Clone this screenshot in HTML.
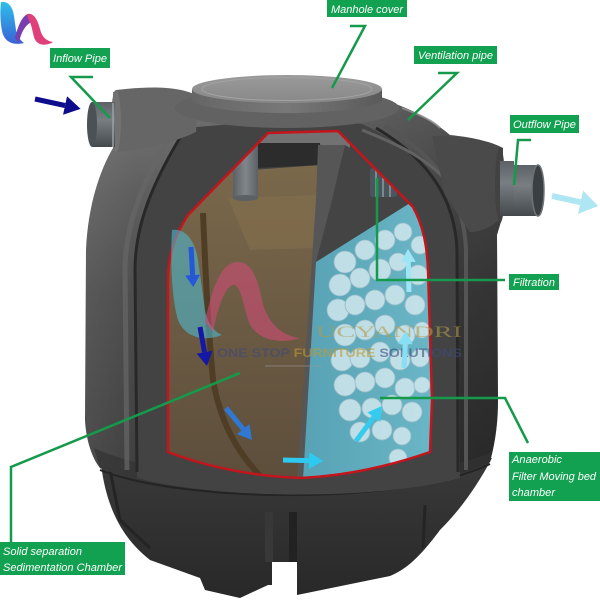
<!DOCTYPE html>
<html><head><meta charset="utf-8"><style>
html,body{margin:0;padding:0;background:#fff;}
svg{display:block;}
.lbl{font-family:"Liberation Sans",Arial,sans-serif;font-style:italic;font-size:11px;fill:#fff;}
</style></head><body>
<svg width="600" height="600" viewBox="0 0 600 600" xmlns="http://www.w3.org/2000/svg">
<defs>
  <linearGradient id="bodyV" x1="0" y1="90" x2="0" y2="500" gradientUnits="userSpaceOnUse">
    <stop offset="0" stop-color="#727272"/>
    <stop offset="0.25" stop-color="#585858"/>
    <stop offset="0.5" stop-color="#464646"/>
    <stop offset="1" stop-color="#353535"/>
  </linearGradient>
  <linearGradient id="bodyH" x1="85" y1="0" x2="500" y2="0" gradientUnits="userSpaceOnUse">
    <stop offset="0" stop-color="#fff" stop-opacity="0.10"/>
    <stop offset="0.12" stop-color="#fff" stop-opacity="0.04"/>
    <stop offset="0.5" stop-color="#000" stop-opacity="0.06"/>
    <stop offset="1" stop-color="#000" stop-opacity="0.28"/>
  </linearGradient>
  <linearGradient id="baseG" x1="0" y1="470" x2="0" y2="600" gradientUnits="userSpaceOnUse">
    <stop offset="0" stop-color="#383838"/>
    <stop offset="1" stop-color="#282828"/>
  </linearGradient>
  <linearGradient id="lidTop" x1="0" y1="75" x2="0" y2="103" gradientUnits="userSpaceOnUse">
    <stop offset="0" stop-color="#9a9a9a"/>
    <stop offset="1" stop-color="#888"/>
  </linearGradient>
  <linearGradient id="lidSide" x1="192" y1="0" x2="382" y2="0" gradientUnits="userSpaceOnUse">
    <stop offset="0" stop-color="#666"/>
    <stop offset="0.5" stop-color="#787878"/>
    <stop offset="1" stop-color="#5a5a5a"/>
  </linearGradient>
  <linearGradient id="pipeG" x1="0" y1="0" x2="0" y2="1">
    <stop offset="0" stop-color="#5c6266"/>
    <stop offset="0.4" stop-color="#787e82"/>
    <stop offset="1" stop-color="#44494c"/>
  </linearGradient>
  <linearGradient id="vpipe" x1="0" y1="0" x2="1" y2="0">
    <stop offset="0" stop-color="#5a6064"/>
    <stop offset="0.5" stop-color="#80868a"/>
    <stop offset="1" stop-color="#5a6064"/>
  </linearGradient>
  <linearGradient id="brownG" x1="0" y1="165" x2="0" y2="480" gradientUnits="userSpaceOnUse">
    <stop offset="0" stop-color="#7a684b"/>
    <stop offset="1" stop-color="#5d4e3c"/>
  </linearGradient>
  <linearGradient id="blueG" x1="310" y1="0" x2="432" y2="0" gradientUnits="userSpaceOnUse">
    <stop offset="0" stop-color="#58a4b6"/>
    <stop offset="1" stop-color="#6ab6c6"/>
  </linearGradient>
  <linearGradient id="logoBlue" x1="0" y1="0" x2="0" y2="1">
    <stop offset="0" stop-color="#2ec0ea"/>
    <stop offset="1" stop-color="#3a62d6"/>
  </linearGradient>
  <clipPath id="cut">
    <path d="M168,452 L168,280 C168,255 175,235 188,215 L268,133 L338,131 L413,207 C423,225 427,245 428,270 L432,400 L430,452 C390,466 345,476 300,478 C250,476 205,466 168,452 Z"/>
  </clipPath>
  <clipPath id="blueClip">
    <path d="M316,262 L410,203 L440,203 L440,480 L303,480 Z"/>
  </clipPath>
  <marker id="mNavy" viewBox="0 0 10 10" refX="0" refY="5" markerWidth="16" markerHeight="19" markerUnits="userSpaceOnUse" orient="auto" preserveAspectRatio="none"><path d="M0,0 L10,5 L0,10 Z" fill="#0c0c8c"/></marker>
  <marker id="mOut" viewBox="0 0 10 10" refX="0" refY="5" markerWidth="18" markerHeight="24" markerUnits="userSpaceOnUse" orient="auto" preserveAspectRatio="none"><path d="M0,0 L10,5 L0,10 Z" fill="#aee6f4"/></marker>
  <marker id="m3" viewBox="0 0 10 10" refX="0" refY="5" markerWidth="12" markerHeight="15" markerUnits="userSpaceOnUse" orient="auto" preserveAspectRatio="none"><path d="M0,0 L10,5 L0,10 Z" fill="#2557d6"/></marker>
  <marker id="m4" viewBox="0 0 10 10" refX="0" refY="5" markerWidth="14" markerHeight="16" markerUnits="userSpaceOnUse" orient="auto" preserveAspectRatio="none"><path d="M0,0 L10,5 L0,10 Z" fill="#1418a6"/></marker>
  <marker id="m5" viewBox="0 0 10 10" refX="0" refY="5" markerWidth="14" markerHeight="16" markerUnits="userSpaceOnUse" orient="auto" preserveAspectRatio="none"><path d="M0,0 L10,5 L0,10 Z" fill="#2f78d4"/></marker>
  <marker id="m6" viewBox="0 0 10 10" refX="0" refY="5" markerWidth="14" markerHeight="17" markerUnits="userSpaceOnUse" orient="auto" preserveAspectRatio="none"><path d="M0,0 L10,5 L0,10 Z" fill="#2ec9f0"/></marker>
  <marker id="m7" viewBox="0 0 10 10" refX="0" refY="5" markerWidth="14" markerHeight="16" markerUnits="userSpaceOnUse" orient="auto" preserveAspectRatio="none"><path d="M0,0 L10,5 L0,10 Z" fill="#34cbef"/></marker>
  <marker id="m8" viewBox="0 0 10 10" refX="0" refY="5" markerWidth="13" markerHeight="15" markerUnits="userSpaceOnUse" orient="auto" preserveAspectRatio="none"><path d="M0,0 L10,5 L0,10 Z" fill="#86dff3"/></marker>
  <marker id="m9" viewBox="0 0 10 10" refX="0" refY="5" markerWidth="13" markerHeight="15" markerUnits="userSpaceOnUse" orient="auto" preserveAspectRatio="none"><path d="M0,0 L10,5 L0,10 Z" fill="#9ee6f6"/></marker>
</defs>

<rect width="600" height="600" fill="#fff"/>

<!-- Top-left logo -->
<path d="M1,2 C9,1 13,8 14,16 L16,30 C17,36 20,40 24,43 C12,46 4,41 2,31 C0,20 0,10 1,2 Z" fill="url(#logoBlue)"/>
<path d="M15,38 C18,26 22,16 28,14 L32,22 C26,24 21,32 19,43 Z" fill="#7a3fae"/>
<path d="M27,14 C34,12 38,21 40,29 C42,37 46,41 53,42 C45,47 36,45 34,37 C32,29 31,23 29,21 Z" fill="#e0407a"/>

<!-- Base (lower section) -->
<path d="M100,455 C104,500 118,535 150,560 L200,578 L205,590 L240,598 L268,585 L272,585 L272,562 L297,562 L297,595 L390,576 C410,568 425,550 440,530 C458,512 475,490 492,458 Z" fill="url(#baseG)"/>
<rect x="265" y="512" width="8" height="50" fill="#383838"/>
<rect x="289" y="512" width="8" height="50" fill="#222"/>
<path d="M110,470 L120,520 L150,548" fill="none" stroke="#242424" stroke-width="3"/>
<path d="M425,505 L423,548" fill="none" stroke="#242424" stroke-width="3"/>

<!-- Upper body -->
<path d="M113,148 C100,170 88,205 86,250 L85,420 C86,440 92,458 100,468 C180,500 400,505 490,462 C496,440 498,420 498,400 L497,235 L503,215 L503,148 C490,141 470,137 450,135 C430,118 405,106 383,100 L192,100 C170,96 145,92 120,90 L113,92 Z" fill="url(#bodyV)"/>
<path d="M113,148 C100,170 88,205 86,250 L85,420 C86,440 92,458 100,468 C180,500 400,505 490,462 C496,440 498,420 498,400 L497,235 L503,215 L503,148 C490,141 470,137 450,135 C430,118 405,106 383,100 L192,100 C170,96 145,92 120,90 L113,92 Z" fill="url(#bodyH)"/>
<!-- ring band -->
<path d="M100,468 C180,500 400,505 490,462 L492,452 C400,490 180,488 94,448 Z" fill="#333" opacity="0.7"/>
<path d="M100,470 C180,502 400,507 490,464" fill="none" stroke="#242424" stroke-width="2"/>

<!-- frame around cutaway -->
<path d="M137,478 L135,270 C135,225 152,180 186,128 L300,118 L362,124 C420,150 455,195 458,250 L460,478 C380,500 220,500 137,478 Z" fill="#434343"/>
<path d="M137,472 L135,270 C135,226 152,182 186,128" fill="none" stroke="#282828" stroke-width="3"/>
<path d="M127,470 L125,270 C125,224 143,178 178,124" fill="none" stroke="#666" stroke-width="5" opacity="0.7"/>
<path d="M458,472 L457,250 C455,200 430,160 376,128" fill="none" stroke="#282828" stroke-width="3"/>
<path d="M466,470 L466,250 C464,198 440,158 385,126" fill="none" stroke="#555" stroke-width="4"/>
<path d="M362,130 C400,145 430,160 450,185" fill="none" stroke="#626262" stroke-width="3"/>
<path d="M113,142 C130,128 150,118 172,110" fill="none" stroke="#a0a0a0" stroke-width="2" opacity="0.8"/>
<path d="M402,108 C420,115 432,120 440,128" fill="none" stroke="#909090" stroke-width="2" opacity="0.8"/>

<!-- Inflow housing & pipe -->
<path d="M116,90 C150,86 180,86 198,96 L196,132 C175,142 145,150 116,152 Z" fill="#666"/>
<ellipse cx="116" cy="121" rx="5" ry="31" fill="#727272"/>
<rect x="92" y="102" width="23" height="45" fill="url(#pipeG)"/>
<ellipse cx="92" cy="124.5" rx="5" ry="22.5" fill="#4c5155"/>
<line x1="113" y1="103" x2="113" y2="147" stroke="#9aa0a4" stroke-width="1.5"/>

<!-- Outflow housing & pipe -->
<path d="M432,136 C462,136 486,140 500,147 L503,215 C495,226 482,232 470,232 L445,195 Z" fill="#4a4a4a"/>
<ellipse cx="500" cy="185" rx="5" ry="38" fill="#424242"/>
<rect x="500" y="161" width="14" height="55" fill="url(#pipeG)"/>
<rect x="514" y="165" width="24" height="51" fill="url(#pipeG)"/>
<ellipse cx="538" cy="190.5" rx="6" ry="25.5" fill="#3a3f42"/>
<ellipse cx="538" cy="190.5" rx="6" ry="25.5" fill="none" stroke="#6d7377" stroke-width="1.5"/>

<!-- Lid -->
<ellipse cx="287" cy="108" rx="112" ry="20" fill="#626262"/>
<path d="M192,89 L192,99 A95,14 0 0 0 382,99 L382,89 Z" fill="url(#lidSide)"/>
<ellipse cx="287" cy="89" rx="95" ry="14" fill="url(#lidTop)"/>
<ellipse cx="287" cy="89" rx="85" ry="11.5" fill="none" stroke="#a2a2a2" stroke-width="1"/>

<!-- Cutaway interior -->
<g clip-path="url(#cut)">
  <rect x="160" y="125" width="280" height="360" fill="#424242"/>
  <rect x="160" y="125" width="190" height="30" fill="#727272"/>
  <path d="M255,143 L320,143 L322,165 L255,168 Z" fill="#2c2c2c"/>
  <path d="M190,150 L232,150 L232,175 L190,190 Z" fill="#505050"/>
  <path d="M168,195 C190,188 205,180 225,172 L320,165 L322,200 L305,480 L160,480 Z" fill="url(#brownG)"/>
  <path d="M228,198 L318,195 L316,248 L250,250 Z" fill="#85714f" opacity="0.55"/>
  <path d="M203,213 C205,260 207,313 213,380 C220,420 235,450 262,478" fill="none" stroke="#4f3d25" stroke-width="6"/>
  <rect x="233" y="140" width="25" height="58" fill="url(#vpipe)"/>
  <ellipse cx="245.5" cy="198" rx="12.5" ry="3" fill="#5a6064"/>
  <!-- partition -->
  <path d="M318,145 L345,145 L332,200 L312,480 L297,480 L316,200 Z" fill="#565656"/>
  <path d="M332,200 L345,145 L420,190 L430,260 L316,262 Z" fill="#444"/>
  <!-- blue chamber -->
  <path d="M316,262 L410,203 L440,203 L440,480 L303,480 Z" fill="url(#blueG)"/>
  <g clip-path="url(#blueClip)" fill="#d6e9ef" stroke="#a3bfc8" stroke-width="0.8" opacity="0.82">
    <circle cx="345" cy="262" r="11"/><circle cx="365" cy="250" r="10"/><circle cx="385" cy="240" r="10"/><circle cx="403" cy="232" r="9"/><circle cx="420" cy="245" r="9"/>
    <circle cx="340" cy="285" r="11"/><circle cx="360" cy="278" r="10"/><circle cx="380" cy="270" r="11"/><circle cx="398" cy="262" r="9"/><circle cx="418" cy="275" r="10"/>
    <circle cx="338" cy="310" r="11"/><circle cx="355" cy="305" r="10"/><circle cx="375" cy="300" r="10"/><circle cx="395" cy="295" r="10"/><circle cx="415" cy="305" r="10"/>
    <circle cx="345" cy="335" r="11"/><circle cx="365" cy="330" r="10"/><circle cx="385" cy="325" r="10"/><circle cx="405" cy="335" r="10"/><circle cx="422" cy="330" r="8"/>
    <circle cx="342" cy="360" r="11"/><circle cx="360" cy="358" r="10"/><circle cx="380" cy="352" r="10"/><circle cx="400" cy="360" r="10"/><circle cx="420" cy="358" r="9"/>
    <circle cx="345" cy="385" r="11"/><circle cx="365" cy="382" r="10"/><circle cx="385" cy="378" r="10"/><circle cx="405" cy="388" r="10"/><circle cx="422" cy="385" r="8"/>
    <circle cx="350" cy="410" r="11"/><circle cx="372" cy="408" r="10"/><circle cx="392" cy="405" r="10"/><circle cx="412" cy="412" r="10"/>
    <circle cx="360" cy="432" r="10"/><circle cx="382" cy="430" r="10"/><circle cx="402" cy="436" r="9"/><circle cx="398" cy="458" r="9"/>
  </g>
  <!-- thread -->
  <rect x="370" y="168" width="27" height="29" rx="3" fill="#4b565c"/>
  <line x1="376" y1="168" x2="376" y2="197" stroke="#7a8a90" stroke-width="2"/>
  <line x1="383" y1="168" x2="383" y2="197" stroke="#7a8a90" stroke-width="2"/>
  <line x1="390" y1="168" x2="390" y2="197" stroke="#7a8a90" stroke-width="2"/>
</g>
<path d="M168,452 L168,280 C168,255 175,235 188,215 L268,133 L338,131 L413,207 C423,225 427,245 428,270 L432,400 L430,452 C390,466 345,476 300,478 C250,476 205,466 168,452 Z" fill="none" stroke="#c4141c" stroke-width="2.5"/>

<!-- Watermark -->
<path d="M172,230 C185,228 195,240 198,260 L205,310 C208,325 215,332 222,335 C205,342 185,338 178,320 C172,300 170,260 172,230 Z" fill="#4cc0d8" opacity="0.55"/>
<path d="M205,322 C212,290 220,262 238,262 C252,262 258,280 262,300 C266,320 280,336 300,338 C280,345 255,340 248,320 C243,302 240,285 234,285 C226,285 218,305 213,332 Z" fill="#d84a7a" opacity="0.55"/>
<text x="316" y="337" textLength="146" lengthAdjust="spacingAndGlyphs" font-family="'Liberation Serif',serif" font-size="16" fill="#b49a48" opacity="0.6">UCYANDRI</text>
<text x="217" y="357" textLength="245" lengthAdjust="spacingAndGlyphs" font-family="'Liberation Sans',Arial,sans-serif" font-weight="bold" font-size="12" opacity="0.6"><tspan fill="#3d4a7a">ONE STOP </tspan><tspan fill="#c09a30">FURNITURE </tspan><tspan fill="#3d4a7a">SOLUTIONS</tspan></text>
<line x1="265" y1="366" x2="322" y2="366" stroke="#9a9a9a" stroke-width="1" opacity="0.6"/>

<!-- Arrows -->
<line x1="35" y1="99" x2="65" y2="105.5" stroke="#0c0c8c" stroke-width="5" marker-end="url(#mNavy)"/>
<line x1="552" y1="196" x2="580.5" y2="202.2" stroke="#aee6f4" stroke-width="6" marker-end="url(#mOut)"/>
<line x1="191" y1="247" x2="192.6" y2="275" stroke="#2557d6" stroke-width="5" marker-end="url(#m3)"/>
<line x1="200" y1="327" x2="204.5" y2="352.2" stroke="#1418a6" stroke-width="5" marker-end="url(#m4)"/>
<line x1="226" y1="408" x2="243.2" y2="429.1" stroke="#2f78d4" stroke-width="5" marker-end="url(#m5)"/>
<line x1="283" y1="460" x2="309" y2="460.6" stroke="#2ec9f0" stroke-width="5" marker-end="url(#m6)"/>
<line x1="356" y1="441" x2="373.7" y2="417.2" stroke="#34cbef" stroke-width="5" marker-end="url(#m7)"/>
<line x1="404" y1="368" x2="405.3" y2="344" stroke="#86dff3" stroke-width="5" marker-end="url(#m8)"/>
<line x1="409" y1="292" x2="408.3" y2="262" stroke="#9ee6f6" stroke-width="5" marker-end="url(#m9)"/>

<!-- Leader lines -->
<g fill="none" stroke="#159a4b" stroke-width="2.5">
  <polyline points="350,26 365,26 332,88"/>
  <polyline points="438,73 457,73 408,120"/>
  <polyline points="531,140 518,140 514,185"/>
  <polyline points="93,77 71,77 110,118"/>
  <polyline points="377,178 377,280 505,280"/>
  <polyline points="380,398 505,398 528,443"/>
  <polyline points="240,373 11,467 11,542"/>
</g>

<!-- Labels -->
<g fill="#11a150">
  <rect x="327" y="0" width="80" height="17"/>
  <rect x="414" y="46" width="83" height="18"/>
  <rect x="510" y="115" width="69" height="18"/>
  <rect x="50" y="48" width="60" height="20"/>
  <rect x="509" y="274" width="50" height="16"/>
  <rect x="509" y="452" width="91" height="49"/>
  <rect x="0" y="542" width="125" height="33"/>
</g>
<text class="lbl" x="331" y="13" textLength="72" lengthAdjust="spacingAndGlyphs">Manhole cover</text>
<text class="lbl" x="418" y="59" textLength="75" lengthAdjust="spacingAndGlyphs">Ventilation pipe</text>
<text class="lbl" x="513" y="128" textLength="63" lengthAdjust="spacingAndGlyphs">Outflow Pipe</text>
<text class="lbl" x="53" y="62" textLength="54" lengthAdjust="spacingAndGlyphs">Inflow Pipe</text>
<text class="lbl" x="513" y="286" textLength="42" lengthAdjust="spacingAndGlyphs">Filtration</text>
<text class="lbl" x="512" y="463" textLength="50" lengthAdjust="spacingAndGlyphs">Anaerobic</text>
<text class="lbl" x="512" y="480" textLength="84" lengthAdjust="spacingAndGlyphs">Filter Moving bed</text>
<text class="lbl" x="512" y="496" textLength="43" lengthAdjust="spacingAndGlyphs">chamber</text>
<text class="lbl" x="3" y="555" textLength="79" lengthAdjust="spacingAndGlyphs">Solid separation</text>
<text class="lbl" x="3" y="571" textLength="119" lengthAdjust="spacingAndGlyphs">Sedimentation Chamber</text>
</svg>
</body></html>
